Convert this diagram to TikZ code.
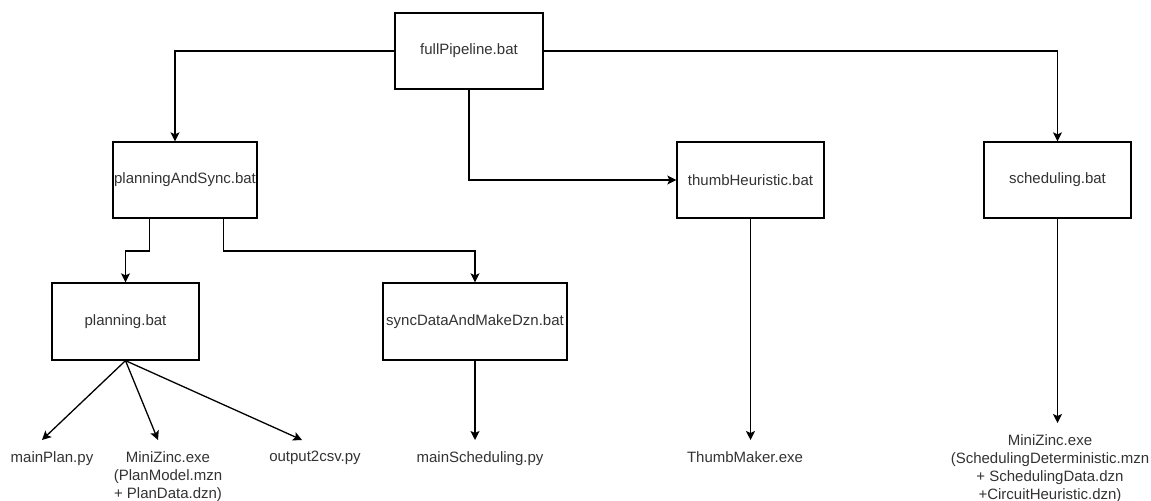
\documentclass[tikz,border=0pt]{standalone}
\usepackage{fontspec}
\setmainfont{Liberation Sans}
\usetikzlibrary{arrows.meta,calc}
\begin{document}
\begin{tikzpicture}[x=0.5pt,y=-0.5pt,
  txt/.style={font=\fontsize{7.5}{9}\selectfont,text=black!80},
  box/.style={txt,draw=black,line width=0.65pt,fill=white,
    minimum width=#1,minimum height=38pt,inner sep=0pt},
  lbl/.style={txt,anchor=north,align=center,inner xsep=0pt,inner ysep=5.5pt},
  link/.style={draw=black,line width=0.65pt,
    -{Stealth[length=4.5pt,width=4.5pt,inset=1pt]}}]
% page
\fill[white] (0,0) rectangle (1151,501);
\useasboundingbox (0,0) rectangle (1151,501);

% batch scripts
\node[box=74pt] (full) at (469,51) {fullPipeline.bat};
\node[box=72pt] (pas) at (185,180) {planningAndSync.bat};
\node[box=73.5pt] (thumb) at (750.5,180) {thumbHeuristic.bat};
\node[box=73.5pt] (sched) at (1057.5,180) {scheduling.bat};
\node[box=73.5pt,minimum height=38.5pt] (plan) at (125.5,321.5) {planning.bat};
\node[box=92pt,minimum height=38.5pt] (sync) at (475,321.5) {syncDataAndMakeDzn.bat};

% programs that get called
\node[lbl] (mainplan) at (52,440) {mainPlan.py};
\node[lbl] (mzplan) at (168,440) {MiniZinc.exe\\(PlanModel.mzn\\+ PlanData.dzn)};
\node[lbl] (csv) at (315,440) {output2csv.py};
\node[lbl] (mainsched) at (480,440) {mainScheduling.py};
\node[lbl] (thumbexe) at (745,440) {ThumbMaker.exe};
\node[lbl] (mzsched) at (1050,423) {MiniZinc.exe\\(SchedulingDeterministic.mzn\\+ SchedulingData.dzn\\+CircuitHeuristic.dzn)};

% top level calls
\draw[link] (full.west) -| ($(pas.north)+(-10,0)$);
\draw[link] (full.south) |- (thumb.west);
\draw[link] (full.east) -| (sched.north);

% planning and sync
\draw[link] ($(pas.south west)+(37,0)$) -- ++(0,32.5) -| (plan.north);
\draw[link] ($(pas.south east)+(-34,0)$) -- ++(0,32.5) -| (sync.north);

% leaves
\draw[link] (plan.south) -- ($(mainplan.north)+(-10,0)$);
\draw[link] (plan.south) -- ($(mzplan.north)+(-10,0)$);
\draw[link] (plan.south) -- ($(csv.north)+(-13,0)$);
\draw[link] (sync.south) -- (sync.south |- mainsched.north);
\draw[link] (thumb.south) -- (thumb.south |- thumbexe.north);
\draw[link] (sched.south) -- (sched.south |- mzsched.north);
\end{tikzpicture}
\end{document}
